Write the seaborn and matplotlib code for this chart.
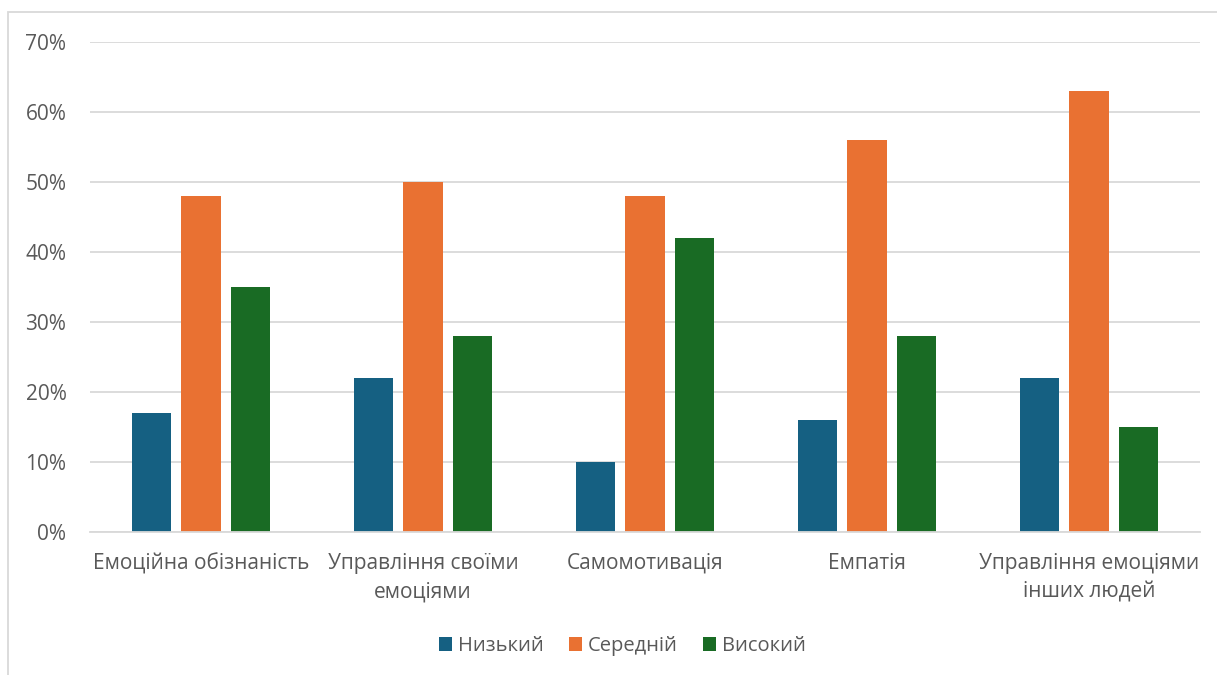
import matplotlib
matplotlib.use("Agg")
import matplotlib.pyplot as plt
from matplotlib.patches import Rectangle
from matplotlib.ticker import FuncFormatter
import seaborn as sns
import pandas as pd

categories = [
    "Емоційна обізнаність",
    "Управління своїми\nемоціями",
    "Самомотивація",
    "Емпатія",
    "Управління емоціями\nінших людей",
]
levels = ["Низький", "Середній", "Високий"]
low = [17, 22, 10, 16, 22]
mid = [48, 50, 48, 56, 63]
high = [35, 28, 42, 28, 15]
yticks = [0, 10, 20, 30, 40, 50, 60, 70]

colors = ["#156082", "#E97132", "#196B24"]
text_color = "#595959"
grid_color = "#D9D9D9"

rows = []
for series_name, values in zip(levels, [low, mid, high]):
    for cat, v in zip(categories, values):
        rows.append({"category": cat, "level": series_name, "value": v})
df = pd.DataFrame(rows)

sns.set_theme(style="white")
plt.rcParams["font.family"] = ["Open Sans", "DejaVu Sans"]

fig = plt.figure(figsize=(12.17, 6.75), dpi=100)
ax = fig.add_axes([90 / 1217, 1 - 532 / 675, 1110 / 1217, 490 / 675])

sns.barplot(
    data=df, x="category", y="value", hue="level",
    order=categories, hue_order=levels, palette=colors,
    width=0.669, gap=0.21, saturation=1, linewidth=0, ax=ax, legend=True,
)

ax.set_ylim(0, 70)
ax.set_yticks(yticks)
ax.yaxis.set_major_formatter(FuncFormatter(lambda v, _: f"{int(v)}%"))
ax.grid(axis="y", color=grid_color, linewidth=1.3)
ax.set_axisbelow(True)
for side in ["top", "right", "left"]:
    ax.spines[side].set_visible(False)
ax.spines["bottom"].set_color(grid_color)
ax.spines["bottom"].set_linewidth(1.3)
ax.tick_params(axis="both", length=0, labelsize=15, colors=text_color)
ax.tick_params(axis="y", pad=17)
ax.tick_params(axis="x", pad=15)
for lbl in ax.get_xticklabels():
    lbl.set_linespacing(1.45)
ax.set_xlabel("")
ax.set_ylabel("")

handles, labels = ax.get_legend_handles_labels()
ax.legend_.remove()
fig.legend(
    handles, labels, loc="center", bbox_to_anchor=(622.5 / 1217, 1 - 646 / 675),
    ncol=3, frameon=False, fontsize=14.5, labelcolor=text_color,
    handlelength=0.65, handleheight=0.65, handletextpad=0.3, columnspacing=1.25,
)

# light outer frame of the chart area
fig.patches.append(Rectangle(
    (8 / 1217, -0.1), 1.2, 1 - 12 / 675 + 0.1, transform=fig.transFigure,
    fill=False, edgecolor=grid_color, linewidth=1.3, figure=fig,
))

fig.savefig("out.png", dpi=100)
